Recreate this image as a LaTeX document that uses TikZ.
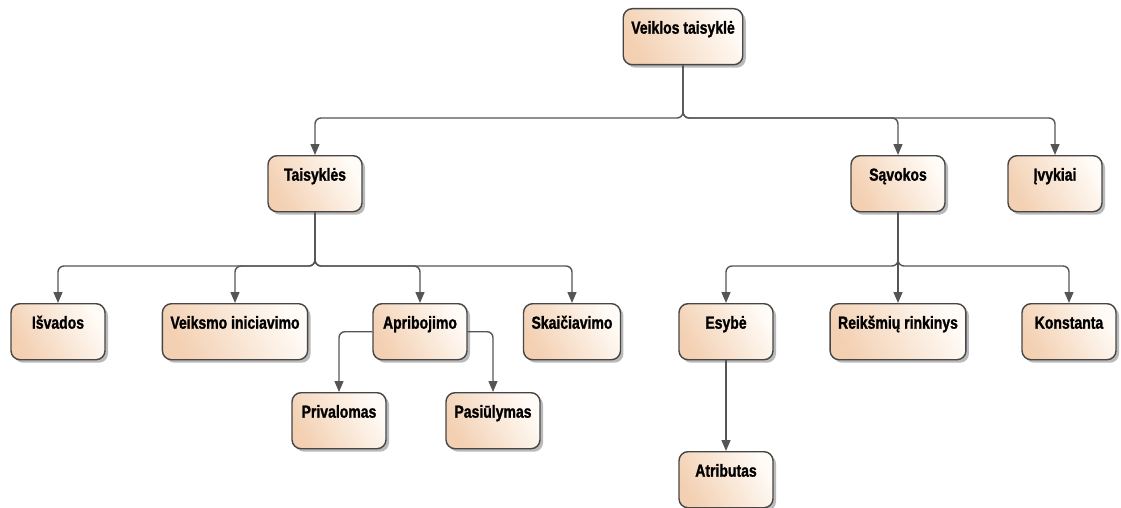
\documentclass[tikz,border=0pt]{standalone}
\usepackage{fontspec}
\newfontfamily\lblfont[FakeStretch=0.8,FakeBold=1.2]{Liberation Sans}
\usetikzlibrary{arrows.meta,shadows}
\definecolor{boxline}{RGB}{70,70,70}
\definecolor{peach}{RGB}{243,208,178}
\definecolor{cream}{RGB}{255,251,246}
\definecolor{wire}{RGB}{85,85,85}
\begin{document}
\begin{tikzpicture}[x=1pt,y=-1pt,
  box/.style={draw=boxline, line width=1.4pt, rounded corners=9pt,
    left color=peach, right color=cream, shading angle=120,
    minimum width=94pt, minimum height=56pt,
    inner xsep=8pt, inner ysep=6pt, text height=19pt, text depth=25pt,
    anchor=north, font=\lblfont\bfseries\fontsize{17.5}{20}\selectfont,
    drop shadow={shadow xshift=3pt, shadow yshift=-3pt, fill=black!45, opacity=.6}},
  conn/.style={draw=wire, line width=1.4pt, rounded corners=6pt,
    -{Triangle[length=11pt,width=9pt,fill=wire]}}]
\useasboundingbox (0,0) rectangle (1121,508);

% nodes
\node[box] (veik) at (683,8)   {Veiklos taisyklė};
\node[box] (tais) at (315,155) {Taisyklės};
\node[box] (savo) at (898,155) {Sąvokos};
\node[box] (ivyk) at (1055,155) {Įvykiai};
\node[box] (isva) at (58,303)  {Išvados};
\node[box] (veks) at (235,303) {Veiksmo iniciavimo};
\node[box] (apri) at (420,303) {Apribojimo};
\node[box] (skai) at (572,303) {Skaičiavimo};
\node[box] (priv) at (339,392) {Privalomas};
\node[box] (pasi) at (493,392) {Pasiūlymas};
\node[box] (esyb) at (726,303) {Esybė};
\node[box] (reik) at (898,303) {Reikšmių rinkinys};
\node[box] (kons) at (1069,303) {Konstanta};
\node[box] (atri) at (726,451) {Atributas};

% bus levels
\coordinate (b1) at (0,118);
\coordinate (b2) at (0,266);

% top level
\draw[conn] (veik.south) -- (veik.south |- b1) -| (tais.north);
\draw[conn] (veik.south) -- (veik.south |- b1) -| (savo.north);
\draw[conn] (veik.south) -- (veik.south |- b1) -| (ivyk.north);

% rules
\draw[conn] (tais.south) -- (tais.south |- b2) -| (isva.north);
\draw[conn] (tais.south) -- (tais.south |- b2) -| (veks.north);
\draw[conn] (tais.south) -- (tais.south |- b2) -| (apri.north);
\draw[conn] (tais.south) -- (tais.south |- b2) -| (skai.north);

% constraint kinds
\draw[conn] (apri.west) -| (priv.north);
\draw[conn] (apri.east) -| (pasi.north);

% concepts
\draw[conn] (savo.south) -- (savo.south |- b2) -| (esyb.north);
\draw[conn] (savo.south) -- (reik.north);
\draw[conn] (savo.south) -- (savo.south |- b2) -| (kons.north);

\draw[conn] (esyb.south) -- (atri.north);
\end{tikzpicture}
\end{document}
